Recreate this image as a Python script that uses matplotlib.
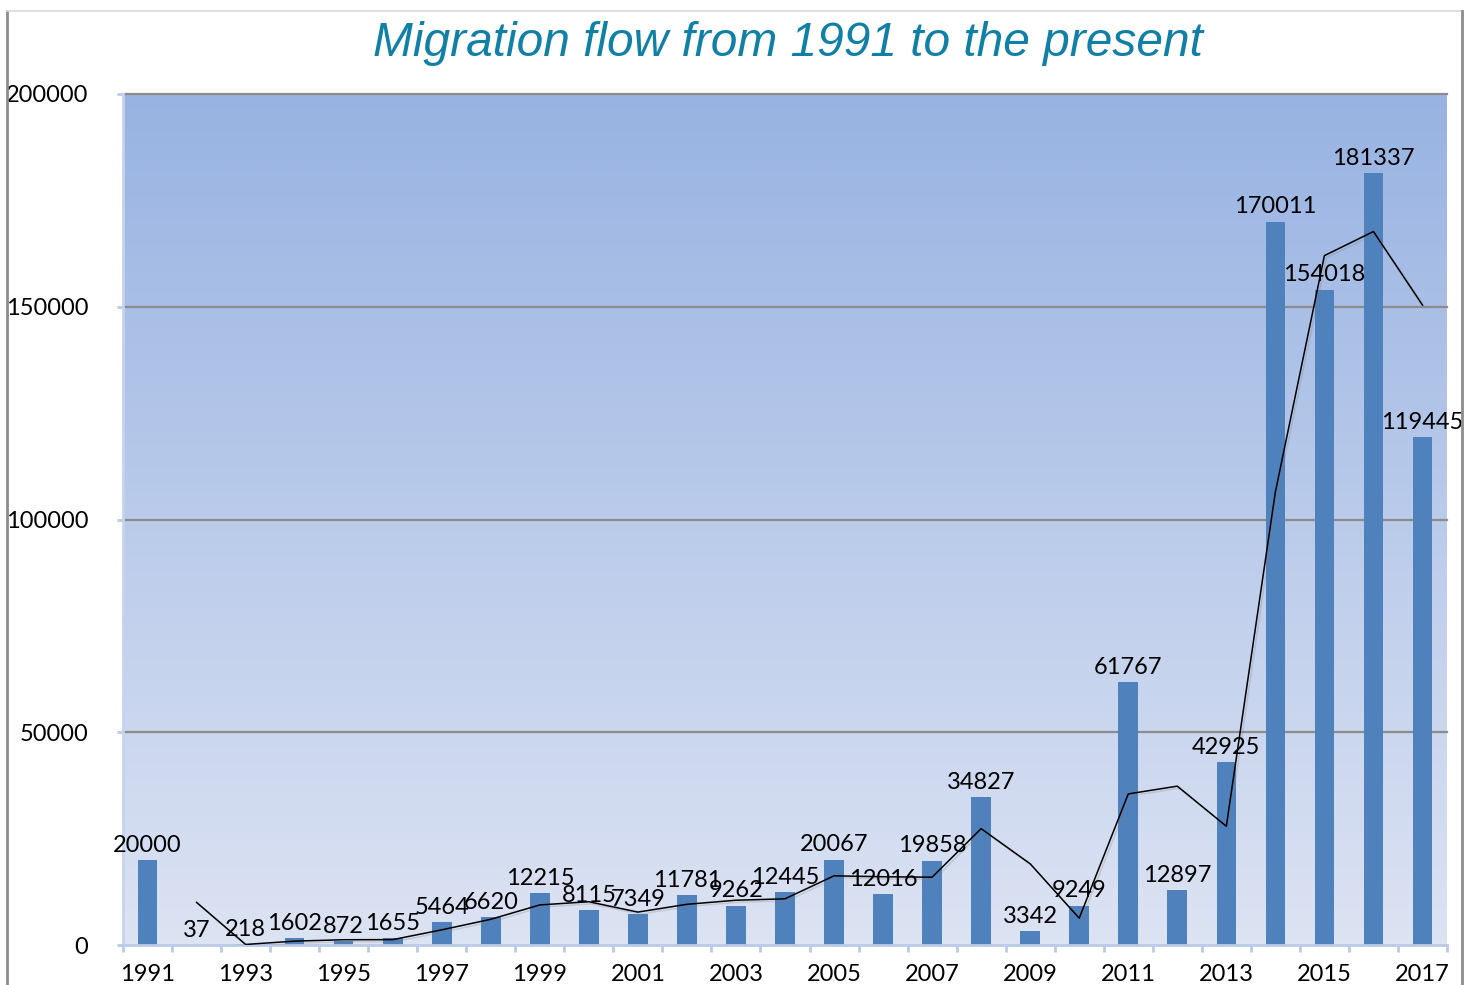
import numpy as np
import matplotlib
matplotlib.use("Agg")
import matplotlib.pyplot as plt
from matplotlib.colors import LinearSegmentedColormap
from matplotlib.lines import Line2D
import matplotlib.patheffects as pe

years = list(range(1991, 2018))
values = [20000, 37, 218, 1602, 872, 1655, 5464, 6620, 12215, 8115, 7349,
          11781, 9262, 12445, 20067, 12016, 19858, 34827, 3342, 9249, 61767,
          12897, 42925, 170011, 154018, 181337, 119445]
yticks = [0, 50000, 100000, 150000, 200000]
title = "Migration flow from 1991 to the present"

W, H = 1472, 985
fig = plt.figure(figsize=(W / 100, H / 100), dpi=100)
fig.patch.set_facecolor("white")
ax = fig.add_axes([123 / W, 1 - 945 / H, (1447 - 123) / W, (945 - 94) / H])

x = np.arange(len(years))
n = len(years)

# gradient background
cmap = LinearSegmentedColormap.from_list("bg", ["#98b3e2", "#dce3f3"])
ax.imshow(np.linspace(0, 1, 256).reshape(-1, 1), extent=[-0.5, n - 0.5, 0, 200000],
          aspect="auto", cmap=cmap, zorder=0, interpolation="bilinear")

for yv in yticks[1:]:
    ax.axhline(yv, color="#8c8c8c", lw=1.6, zorder=1, clip_on=False)

ax.bar(x, values, width=0.4, color="#4f81bd", zorder=2)

# two-period moving average trendline
ma = [(values[i - 1] + values[i]) / 2 for i in range(1, n)]
ax.plot(x[1:], ma, color="black", lw=1.1, zorder=3,
        path_effects=[pe.SimpleLineShadow(offset=(1.5, -1.5), alpha=0.25, shadow_color="gray"), pe.Normal()])

fontname = "Lato"
fs = 17
for xi, v in zip(x, values):
    ax.annotate(str(v), (xi, v), xytext=(0, 3), textcoords="offset points",
                ha="center", va="bottom", fontsize=fs, family=fontname, zorder=4)

ax.set_xlim(-0.5, n - 0.5)
ax.set_ylim(0, 200000)
ax.set_yticks(yticks)
ax.set_yticklabels([str(t) for t in yticks], fontsize=fs, family=fontname)
ax.set_xticks(x[::2])
ax.set_xticklabels([str(y) for y in years[::2]], fontsize=fs, family=fontname)
ax.set_xticks(np.arange(-0.5, n, 1), minor=True)
ax.tick_params(axis="x", which="major", length=0, pad=13.5)
ax.tick_params(axis="x", which="minor", length=5, width=2, color="#b9cbe9")
ax.tick_params(axis="y", length=4, width=2, color="#b9cbe9", pad=21)

for s in ["top", "right"]:
    ax.spines[s].set_visible(False)
ax.spines["left"].set_color("#c5d3ee")
ax.spines["left"].set_linewidth(2)
ax.spines["bottom"].set_color("#b9cbe9")
ax.spines["bottom"].set_linewidth(2)

fig.text(788 / W, 1 - 43 / H, title, ha="center", va="center", fontsize=34.5,
         style="italic", family="Liberation Sans", color="#1180a6")

# outer frame
fig.add_artist(Line2D([7 / W, 7 / W], [0, 1 - 11 / H], transform=fig.transFigure, color="#8c8c8c", lw=2))
fig.add_artist(Line2D([7 / W, 1462 / W], [1 - 11 / H, 1 - 11 / H], transform=fig.transFigure, color="#d9d9d9", lw=1.2))
fig.add_artist(Line2D([1462 / W, 1462 / W], [0, 1 - 11 / H], transform=fig.transFigure, color="#8c8c8c", lw=2))

fig.savefig("out.png", dpi=100)
